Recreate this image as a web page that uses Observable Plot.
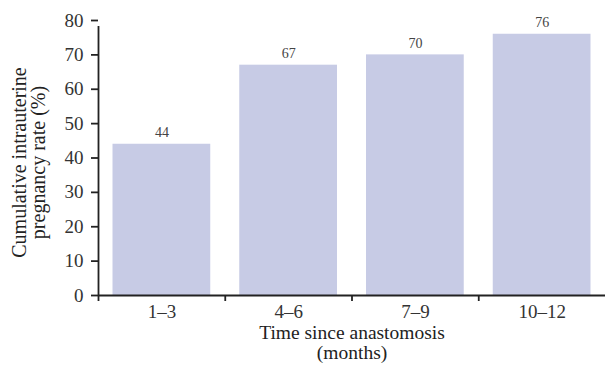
<!DOCTYPE html>
<html>
<head>
<meta charset="utf-8">
<script src="https://cdn.jsdelivr.net/npm/d3@7"></script>
<script src="https://cdn.jsdelivr.net/npm/@observablehq/plot@0.6"></script>
<style>
  html, body { margin: 0; padding: 0; background: #fff; }
  #chart { width: 605px; height: 368px; }
</style>
</head>
<body>
<div id="chart"></div>
<script>
const categories = ["1–3", "4–6", "7–9", "10–12"];
const rates = [44, 67, 70, 76];
const yTicks = [0, 10, 20, 30, 40, 50, 60, 70, 80];

const data = categories.map((c, i) => ({cat: c, i, rate: rates[i]}));
const font = "'Liberation Serif', 'DejaVu Serif', serif";

const plot = Plot.plot({
  width: 605,
  height: 368,
  marginLeft: 98,
  marginRight: 0,
  marginTop: 20,
  marginBottom: 73,
  style: {fontFamily: font, fontSize: "19px", color: "#222", background: "white"},
  x: {domain: [0, categories.length], axis: null},
  y: {domain: [0, 80], axis: null},
  marks: [
    Plot.rectY(data, {x1: d => d.i, x2: d => d.i + 1, y: "rate", fill: "#c7cbe5", insetLeft: 14.5, insetRight: 14.5}),
    Plot.text(data, {x: d => d.i + 0.5, y: "rate", text: d => String(d.rate), dy: -11.5, fontSize: 14, fill: "#444"}),
    // y axis
    Plot.axisY(yTicks, {tickSize: 7, tickPadding: 8, fontSize: 19, stroke: "#222", strokeWidth: 1.8, label: null, fill: "#333"}),
    Plot.ruleX([0], {y1: 0, y2: 80, stroke: "#222", strokeWidth: 1.8, insetBottom: -6}),
    // x axis
    Plot.ruleY([0], {stroke: "#222", strokeWidth: 1.8}),
    Plot.axisX(d3.range(0, categories.length), {tickSize: 6, tickFormat: () => "", stroke: "#222", strokeWidth: 1.8, label: null}),
    Plot.axisX(data.map(d => d.i + 0.5), {tickSize: 0, tickPadding: 9, tickFormat: (v) => categories[Math.floor(v)], fontSize: 19, fill: "#333", label: null}),
    // axis labels
    Plot.text(["Time since anastomosis"], {frameAnchor: "bottom", lineAnchor: "middle", dy: 37, fontSize: 19.5, fill: "#222"}),
    Plot.text(["(months)"], {frameAnchor: "bottom", lineAnchor: "middle", dy: 57.5, fontSize: 19.5, fill: "#222"}),
    Plot.text(["Cumulative intrauterine"], {frameAnchor: "left", textAnchor: "middle", lineAnchor: "middle", dx: -79, dy: 4.5, rotate: -90, fontSize: 20, fill: "#222"}),
    Plot.text(["pregnancy rate (%)"], {frameAnchor: "left", textAnchor: "middle", lineAnchor: "middle", dx: -59.5, dy: 4.5, rotate: -90, fontSize: 20, fill: "#222"})
  ]
});
document.getElementById("chart").appendChild(plot);
</script>
</body>
</html>
